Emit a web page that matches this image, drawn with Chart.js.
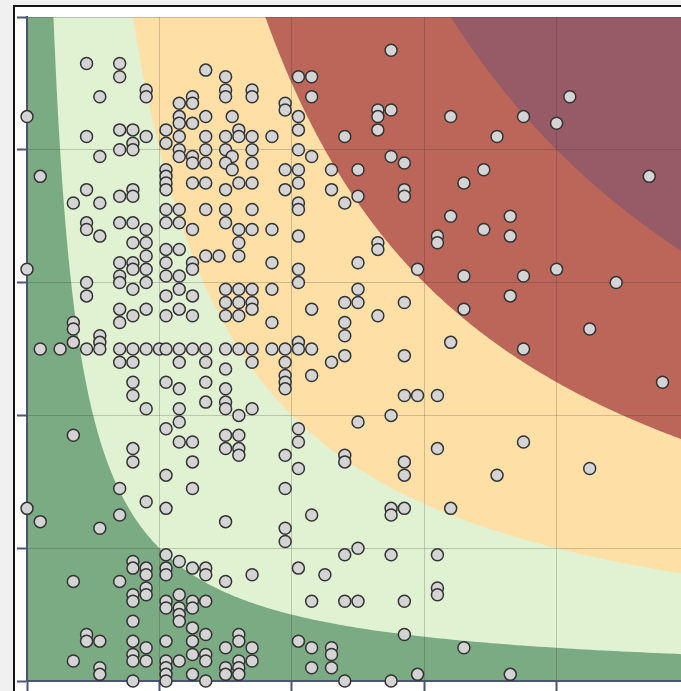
<!DOCTYPE html>
<html>
<head>
<meta charset="utf-8">
<script src="https://cdn.jsdelivr.net/npm/chart.js@4/dist/chart.umd.min.js"></script>
<style>
  html, body { margin: 0; padding: 0; background: #f0f0f0; overflow: hidden; }
  #frame {
    position: absolute; left: 13px; top: 5px;
    width: 720px; height: 720px;
    background: #fff;
    border-left: 2px solid #151515; border-top: 2px solid #151515;
  }
  #plot { display: block; }
</style>
</head>
<body>
<div id="frame"><canvas id="plot" width="700" height="700"></canvas></div>
<script>
// score on each axis runs 0..100, zones are split by the product x*y
var axisMax = 100;
var zoneLimits = [400, 1600, 3600, 6400];
var zoneColors = ["#7bab82", "#e1f2d3", "#fee0a7", "#bc665a", "#975b68"];

// observations (x score, y score), same order in both arrays
var scoreX = [
  0,9,14,14,11,18,18,9,14,16, 16,16,14,18,11,21,21,23,23,23, 23,23,23,25,25,25,25,25,25,21, 21,21,21,2,9,14,16,16,7,11,
  55,27,30,41,43,30,30,34,34,43, 27,31,39,39,41,41,53,53,55,64, 48,53,27,30,32,32,34,37,27,30, 31,34,41,43,27,30,31,34,39,41, 46,50,55,57,66,57,57,27,30,32, 34,39,41,46,50,48,
  82,75,80,71,69,94,
  41,41,21,23,27,30,34,64,73,62, 62,69,73,9,9,11,14,16,18,21, 23,25,30,32,32,34,37,41,53,53, 16,18,18,16,14,16,18,21,23,21, 25,27,29,32,21,23,25,37,41,50, 59,66,75,80,0,14,
  73,89,14,9,9,16,18,23,25,21, 30,32,34,37,41,34,32,50,50,48, 53,57,66,85,14,14,16,18,21,23, 25,30,30,32,34,37,43,48,48,7, 7,7,11,11,41,64,
  2,5,9,11,14,16,18,20,21,23, 25,27,30,32,34,37,39,41,43,75,
  57,16,23,27,30,34,39,46,48,14, 16,16,21,23,27,30,39,39,43,57, 59,62,96,18,23,27,30,30,32,34, 39,
  21,23,23,25,30,30,32,32,32,41, 41,50,55,7,16,16,25,21,25,39, 41,48,48,57,57,62,75,71,85,14, 39,
  30,39,39,43,55,55,57,64,48,50, 55,62,27,27,30,34,41,45,43,48, 50,57,62,62,27,
  27,27,27,27,30,30,30,32,32,34, 32,32,32,34,41,43,46,46,43,46, 48,55,57,59,66,
  73,
  0,2,11,14,18,21,21,23,25,16, 16,18,18,21,21,7,14,16,16,18, 18,21,21,23,23,23,23,25,25,25, 16,9,9,11,16,18,21,25,25,16, 16,18,7,11,11,21,21,21,23,25, 16,21
];
var scoreY = [
  85,93,93,91,88,89,88,82,83,83, 81,80,80,82,79,83,81,87,85,84, 82,80,79,88,87,84,79,78,75,77, 76,75,74,76,74,73,74,73,72,72,
  95,92,91,91,91,89,88,89,88,88, 85,85,87,86,85,83,86,85,86,85, 82,83,82,82,83,82,82,82,80,80, 79,80,80,79,78,78,77,78,77,77, 77,77,79,78,75,74,73,75,74,75, 75,74,75,74,73,72,
  88,85,84,82,77,76,
  72,71,71,71,71,71,71,70,70,67, 66,68,67,69,68,67,69,69,68,69, 69,68,69,68,66,68,68,67,66,65, 66,66,64,63,63,62,62,65,65,63, 63,64,64,64,61,61,62,63,62,63, 62,61,61,62,62,61,
  58,60,60,60,58,59,60,59,58,58, 59,59,59,59,60,57,57,59,57,57, 55,57,56,53,56,54,55,56,55,56, 55,57,55,55,56,54,56,54,52,54, 53,51,52,51,51,51,
  50,50,50,50,50,50,50,50,50,50, 50,50,50,50,50,50,50,50,50,50,
  49,48,48,48,47,48,48,48,49,48, 45,43,45,44,45,44,46,45,46,43, 43,43,45,41,41,42,42,41,40,41, 44,
  38,39,36,36,37,35,37,35,34,38, 36,39,40,37,35,33,33,31,29,34, 32,34,33,33,31,35,36,31,32,29, 29,
  24,23,21,25,26,25,26,26,19,20, 19,19,17,16,15,16,17,16,12,12, 12,12,14,13,12,
  7,4,3,0,5,2,1,7,6,5, 3,2,1,3,6,5,5,4,2,2, 0,0,7,1,5,
  1,
  26,24,23,25,27,26,19,18,17,18, 17,17,16,17,16,15,15,13,12,14, 13,12,11,13,11,10,9,12,11,8, 9,7,6,6,6,5,6,6,4,4, 3,3,3,2,1,3,2,1,3,1, 0,0
];

var points = scoreX.map(function (v, i) { return { x: v, y: scoreY[i] }; });

// paint the x*y zones behind the grid
var zonePlugin = {
  id: "zones",
  beforeDraw: function (chart) {
    var ctx = chart.ctx, a = chart.chartArea;
    var xs = chart.scales.x, ys = chart.scales.y;
    ctx.save();
    ctx.beginPath();
    ctx.rect(a.left, a.top, a.right - a.left, a.bottom - a.top);
    ctx.clip();
    ctx.fillStyle = zoneColors[zoneLimits.length];
    ctx.fillRect(a.left, a.top, a.right - a.left, a.bottom - a.top);
    for (var i = zoneLimits.length - 1; i >= 0; i--) {
      var c = zoneLimits[i];
      var x0 = c / ys.max;
      ctx.beginPath();
      ctx.moveTo(xs.getPixelForValue(0), ys.getPixelForValue(0));
      ctx.lineTo(xs.getPixelForValue(xs.max), ys.getPixelForValue(0));
      var n = 300;
      for (var s = 0; s <= n; s++) {
        var xv = xs.max * Math.pow(x0 / xs.max, s / n);
        ctx.lineTo(xs.getPixelForValue(xv), ys.getPixelForValue(c / xv));
      }
      ctx.lineTo(xs.getPixelForValue(0), ys.getPixelForValue(ys.max));
      ctx.closePath();
      ctx.fillStyle = zoneColors[i];
      ctx.fill();
    }
    ctx.restore();
  }
};

var axisStyle = {
  min: 0,
  max: axisMax,
  ticks: { display: false, stepSize: 20 },
  grid: {
    color: "rgba(40,40,40,0.22)",
    lineWidth: 1,
    tickLength: 10,
    tickColor: "#4b5572",
    tickWidth: 2
  },
  border: { color: "#4b5572", width: 2 }
};

new Chart(document.getElementById("plot"), {
  type: "scatter",
  data: {
    datasets: [{
      data: points,
      pointRadius: 6,
      pointHoverRadius: 6,
      backgroundColor: "#d4d4d4",
      borderColor: "#333333",
      borderWidth: 1.5,
      clip: false
    }]
  },
  options: {
    responsive: false,
    animation: false,
    events: [],
    layout: { padding: { left: 2, top: 10, right: 26, bottom: 16 } },
    plugins: { legend: { display: false }, tooltip: { enabled: false } },
    scales: {
      x: Object.assign({ type: "linear", position: "bottom" }, axisStyle),
      y: Object.assign({ type: "linear", position: "left" }, axisStyle)
    }
  },
  plugins: [zonePlugin]
});
</script>
</body>
</html>
